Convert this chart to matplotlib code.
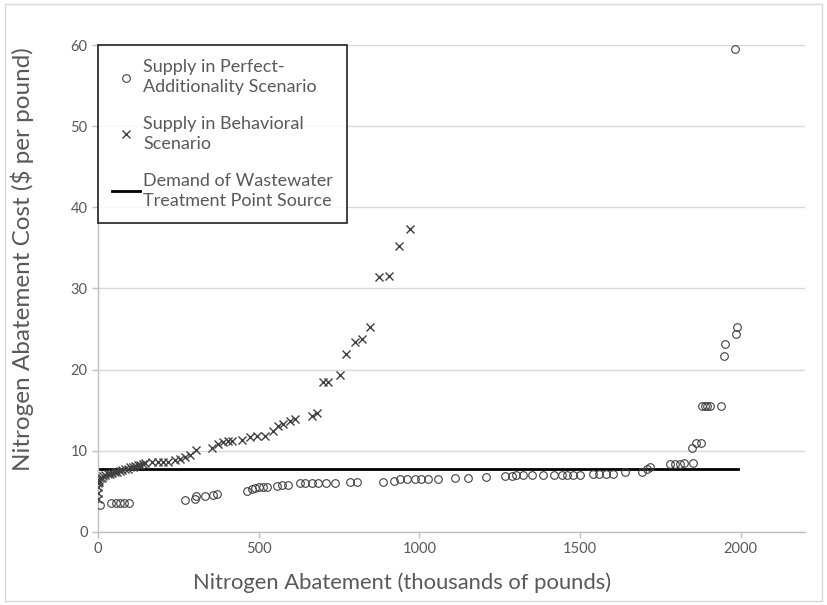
import matplotlib
matplotlib.use("Agg")
import matplotlib.pyplot as plt
from matplotlib.patches import Rectangle

plt.rcParams['font.family'] = ['Lato', 'DejaVu Sans']

# Supply in Perfect-Additionality Scenario (circles)
perfect_x = [6, 40, 55, 68, 82, 97, 271, 302, 305, 333, 358, 370,
             463, 478, 490, 500, 512, 525, 556, 572, 591, 628, 645, 665, 684,
             711, 737, 784, 805, 886, 920, 940, 960, 985, 1005, 1027, 1058, 1110,
             1150, 1207, 1266, 1288, 1302, 1322, 1350, 1384, 1418, 1443, 1460,
             1478, 1500, 1540, 1560, 1580, 1602, 1640, 1692, 1707, 1717,
             1780, 1795, 1810, 1825, 1850, 1848, 1862, 1875,
             1880, 1888, 1895, 1903, 1940, 1947, 1950, 1985, 1988, 1981]
perfect_y = [3.3, 3.6, 3.6, 3.6, 3.6, 3.6, 3.9, 4.1, 4.4, 4.4, 4.5, 4.7,
             5.1, 5.3, 5.4, 5.5, 5.5, 5.5, 5.7, 5.8, 5.8, 6.0, 6.0, 6.0, 6.0,
             6.0, 6.0, 6.1, 6.1, 6.2, 6.3, 6.5, 6.5, 6.5, 6.5, 6.5, 6.5, 6.6,
             6.7, 6.8, 6.9, 6.9, 7.0, 7.0, 7.0, 7.0, 7.0, 7.0, 7.0,
             7.0, 7.0, 7.1, 7.1, 7.1, 7.1, 7.4, 7.4, 7.8, 8.0,
             8.4, 8.4, 8.4, 8.5, 8.5, 10.3, 11.0, 11.0,
             15.5, 15.5, 15.5, 15.5, 15.5, 21.7, 23.2, 24.4, 25.3, 59.5]

# Supply in Behavioral Scenario (crosses)
behav_x = [1, 1, 0, 1, 2, 4, 7, 11, 16, 22, 30, 37, 45, 53, 60, 68, 76, 84, 92,
           100, 108, 115, 123, 131, 139, 146,
           167, 188, 203, 219, 240, 255, 271, 286, 305, 354, 374, 390, 405,
           416, 447, 473, 494, 519, 545, 561, 576, 597, 613, 665, 682,
           701, 716, 753, 773, 799, 820, 846, 874, 905, 936, 971]
behav_y = [4.1, 4.8, 5.6, 6.0, 6.2, 6.4, 6.6, 6.7, 6.9, 7.0, 7.1, 7.2, 7.3, 7.4, 7.4,
           7.5, 7.6, 7.7, 7.8, 8.0, 8.0, 8.1, 8.2, 8.3, 8.4, 8.5,
           8.6, 8.6, 8.6, 8.6, 8.9, 9.0, 9.2, 9.5, 10.1, 10.3, 10.9, 11.1, 11.2,
           11.2, 11.3, 11.7, 11.8, 11.8, 12.4, 13.0, 13.3, 13.7, 13.9, 14.3, 14.6,
           18.5, 18.5, 19.3, 21.9, 23.4, 23.8, 25.2, 31.4, 31.6, 35.2, 37.3]

# Demand of Wastewater Treatment Point Source
demand_x = [0, 1990]
demand_y = [7.8, 7.8]

fig = plt.figure(figsize=(8.27, 6.05), dpi=100)
ax = fig.add_axes([0.1185, 0.1207, 0.8549, 0.8049])

ax.plot(perfect_x, perfect_y, linestyle='none', marker='o', markersize=5.5,
        markerfacecolor='none', markeredgecolor='#404040', markeredgewidth=0.8,
        label="Supply in Perfect-\nAdditionality Scenario", zorder=3)
ax.plot(behav_x, behav_y, linestyle='none', marker='x', markersize=5.2,
        color='#404040', markeredgewidth=1.0,
        label="Supply in Behavioral\nScenario", zorder=3)
ax.plot(demand_x, demand_y, color='black', linewidth=2,
        label="Demand of Wastewater\nTreatment Point Source", zorder=2)

ax.set_xlim(0, 2200)
ax.set_ylim(0, 60)
ax.set_xticks([0, 500, 1000, 1500, 2000])
ax.set_yticks(range(0, 61, 10))
ax.grid(axis='y', color='#d9d9d9', linewidth=1)
ax.set_axisbelow(True)
for s in ['top', 'right']:
    ax.spines[s].set_visible(False)
for s in ['left', 'bottom']:
    ax.spines[s].set_color('#bfbfbf')
    ax.spines[s].set_linewidth(1)
ax.spines['left'].set_bounds(0, 60)
ax.tick_params(colors='#bfbfbf', labelcolor='#595959', labelsize=10.5,
               length=4, width=1)

ax.set_xlabel("Nitrogen Abatement (thousands of pounds)", fontsize=15.8,
              color='#595959')
ax.set_ylabel("Nitrogen Abatement Cost ($ per pound)", fontsize=17.5,
              color='#595959')
ax.xaxis.set_label_coords(0.43, -0.084)
ax.yaxis.set_label_coords(-0.09, 0.56)

leg = ax.legend(loc='upper left', bbox_to_anchor=(0.0, 1.0), fontsize=13,
                frameon=True, fancybox=False, handlelength=1.5,
                handletextpad=0.2, labelspacing=1.15, borderpad=0.8,
                borderaxespad=0.0, labelcolor='#595959')
for t in leg.get_texts():
    t.set_linespacing(1.3)
leg.get_frame().set_edgecolor('black')
leg.get_frame().set_linewidth(1.3)

fig.patches.append(Rectangle((0.006, 0.006), 0.988, 0.988, transform=fig.transFigure,
                             fill=False, edgecolor='#d9d9d9', linewidth=1))

plt.savefig("out.png", dpi=100)
